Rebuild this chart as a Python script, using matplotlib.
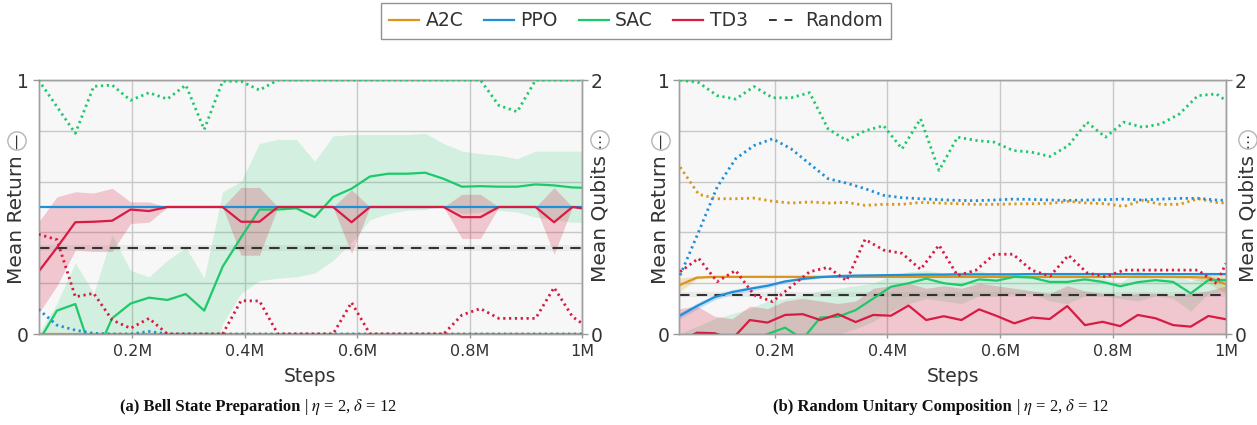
import numpy as np
import matplotlib
matplotlib.use("Agg")
import matplotlib.pyplot as plt
from matplotlib.lines import Line2D

plt.rcParams['font.family'] = ['DejaVu Sans']
plt.rcParams['mathtext.fontset'] = 'stix'

# algorithm colours
colors = {'A2C': '#d9961a', 'PPO': '#1f8fd8', 'SAC': '#1dc96a', 'TD3': '#d81b43'}

# evaluation steps (in millions)
steps_a = np.append(np.arange(1, 31) * 32768, 1_000_000) / 1e6
steps_b_ret = np.arange(1, 33) * 31250 / 1e6
steps_b_qub = steps_a

# ---- (a) Bell State Preparation ----
a_a2c_ret = [0.0] * 31
a_a2c_qub = [0.0] * 31
a_ppo_ret = [0.5] * 31
a_ppo_qub = [0.194, 0.07, 0.03, 0.005, 0.0, 0.0, 0.02, 0.0, 0.0, 0.0, 0.0, 0.0, 0.0, 0.0, 0.0, 0.0,
             0.0, 0.0, 0.0, 0.0, 0.0, 0.0, 0.0, 0.0, 0.0, 0.0, 0.0, 0.0, 0.0, 0.0, 0.0]
a_sac_ret = [-0.03, 0.092, 0.118, -0.1, 0.062, 0.12, 0.143, 0.134, 0.157, 0.092, 0.265, 0.38, 0.49,
             0.49, 0.495, 0.46, 0.54, 0.572, 0.62, 0.631, 0.631, 0.635, 0.611, 0.58, 0.582, 0.58,
             0.58, 0.589, 0.585, 0.577, 0.576]
a_sac_hi = [0.0, 0.12, 0.28, 0.16, 0.39, 0.25, 0.225, 0.29, 0.34, 0.22, 0.56, 0.6, 0.75, 0.766,
            0.766, 0.68, 0.78, 0.785, 0.785, 0.785, 0.785, 0.79, 0.75, 0.72, 0.71, 0.703, 0.69,
            0.72, 0.72, 0.72, 0.72]
a_sac_lo = [-0.2, -0.2, -0.2, -0.2, -0.2, -0.2, -0.2, -0.2, -0.2, -0.2, 0.04, 0.16, 0.21, 0.22,
            0.225, 0.24, 0.29, 0.36, 0.45, 0.474, 0.487, 0.49, 0.506, 0.474, 0.48, 0.487, 0.48,
            0.46, 0.45, 0.44, 0.44]
a_sac_qub = [2.0, 1.79, 1.58, 1.95, 1.96, 1.84, 1.9, 1.85, 1.96, 1.61, 1.99, 1.99, 1.92, 2.0, 2.0,
             2.0, 2.0, 2.0, 2.0, 2.0, 2.0, 2.0, 2.0, 2.0, 2.0, 1.8, 1.75, 2.0, 2.0, 2.0, 2.0]
a_td3_ret = [0.245, 0.34, 0.44, 0.442, 0.446, 0.49, 0.484, 0.5, 0.5, 0.5, 0.5, 0.442, 0.442, 0.5,
             0.5, 0.5, 0.5, 0.44, 0.5, 0.5, 0.5, 0.5, 0.5, 0.46, 0.46, 0.5, 0.5, 0.5, 0.44, 0.5, 0.495]
a_td3_hi = [0.44, 0.54, 0.56, 0.555, 0.574, 0.52, 0.52, 0.5, 0.5, 0.5, 0.5, 0.577, 0.577, 0.5, 0.5,
            0.5, 0.5, 0.568, 0.5, 0.5, 0.5, 0.5, 0.5, 0.55, 0.55, 0.5, 0.5, 0.5, 0.576, 0.5, 0.5]
a_td3_lo = [0.08, 0.19, 0.33, 0.325, 0.325, 0.435, 0.44, 0.5, 0.5, 0.5, 0.5, 0.31, 0.31, 0.5, 0.5,
            0.5, 0.5, 0.317, 0.5, 0.5, 0.5, 0.5, 0.5, 0.376, 0.376, 0.5, 0.5, 0.5, 0.314, 0.5, 0.49]
a_td3_qub = [0.785, 0.743, 0.293, 0.32, 0.11, 0.045, 0.123, 0.0, 0.0, 0.0, 0.0, 0.262, 0.26, 0.0,
             0.0, 0.0, 0.0, 0.249, 0.0, 0.0, 0.0, 0.0, 0.0, 0.15, 0.2, 0.123, 0.123, 0.123, 0.366,
             0.136, 0.084]
a_random = 0.34
a_random_band = (0.325, 0.35)

# ---- (b) Random Unitary Composition ----
b_a2c_ret = [0.192, 0.222, 0.225, 0.225, 0.225, 0.225, 0.225, 0.225, 0.225, 0.225, 0.225, 0.225,
             0.225, 0.225, 0.225, 0.225, 0.225, 0.225, 0.225, 0.225, 0.225, 0.225, 0.225, 0.225,
             0.225, 0.225, 0.225, 0.225, 0.225, 0.224, 0.222, 0.196]
b_a2c_hi = [0.22, 0.228, 0.228, 0.228, 0.228, 0.228, 0.228, 0.228, 0.228, 0.228, 0.228, 0.228,
            0.228, 0.228, 0.228, 0.228, 0.228, 0.228, 0.228, 0.228, 0.228, 0.228, 0.228, 0.228,
            0.228, 0.228, 0.228, 0.228, 0.228, 0.232, 0.24, 0.235]
b_a2c_lo = [0.165, 0.217, 0.222, 0.222, 0.222, 0.222, 0.222, 0.222, 0.222, 0.222, 0.222, 0.222,
            0.222, 0.222, 0.222, 0.222, 0.222, 0.222, 0.222, 0.222, 0.222, 0.222, 0.222, 0.222,
            0.222, 0.222, 0.222, 0.222, 0.222, 0.216, 0.2, 0.16]
b_a2c_qub = [1.314, 1.1, 1.065, 1.065, 1.07, 1.045, 1.031, 1.04, 1.031, 1.036, 1.013, 1.021, 1.021,
             1.036, 1.031, 1.026, 1.021, 1.021, 1.024, 1.026, 1.028, 1.045, 1.031, 1.026, 1.005,
             1.052, 1.021, 1.021, 1.065, 1.036, 1.031]
b_ppo_ret = [0.071, 0.11, 0.145, 0.165, 0.178, 0.19, 0.207, 0.217, 0.224, 0.228, 0.23, 0.231, 0.232,
             0.233, 0.234, 0.234, 0.235, 0.235, 0.235, 0.235, 0.236, 0.236, 0.236, 0.236, 0.236,
             0.236, 0.236, 0.236, 0.236, 0.236, 0.236, 0.236]
b_ppo_hi = [0.083, 0.122, 0.156, 0.175, 0.187, 0.198, 0.213, 0.222, 0.228, 0.231, 0.233, 0.234,
            0.235, 0.236, 0.237, 0.237, 0.238, 0.238, 0.238, 0.238, 0.239, 0.239, 0.239, 0.239,
            0.239, 0.239, 0.239, 0.239, 0.239, 0.239, 0.239, 0.239]
b_ppo_lo = [0.059, 0.098, 0.134, 0.155, 0.169, 0.182, 0.201, 0.212, 0.22, 0.225, 0.227, 0.228,
            0.229, 0.23, 0.231, 0.231, 0.232, 0.232, 0.232, 0.232, 0.233, 0.233, 0.233, 0.233,
            0.233, 0.233, 0.233, 0.233, 0.233, 0.233, 0.233, 0.233]
b_ppo_qub = [0.463, 0.804, 1.157, 1.38, 1.484, 1.537, 1.458, 1.34, 1.223, 1.188, 1.144, 1.092, 1.073,
             1.065, 1.058, 1.052, 1.05, 1.055, 1.062, 1.06, 1.055, 1.052, 1.055, 1.058, 1.062, 1.055,
             1.062, 1.068, 1.068, 1.055, 1.052]
b_sac_ret = [-0.15, -0.12, -0.08, -0.05, -0.03, 0.0, 0.025, -0.02, 0.065, 0.068, 0.094, 0.14, 0.186,
             0.2, 0.218, 0.2, 0.192, 0.215, 0.21, 0.225, 0.222, 0.205, 0.205, 0.215, 0.205, 0.188,
             0.204, 0.212, 0.205, 0.16, 0.212, 0.212]
b_sac_hi = [0.0, 0.03, 0.06, 0.08, 0.1, 0.13, 0.14, 0.15, 0.17, 0.18, 0.19, 0.2, 0.23, 0.245, 0.25,
            0.24, 0.245, 0.25, 0.23, 0.24, 0.22, 0.23, 0.24, 0.23, 0.22, 0.2, 0.25, 0.22, 0.23, 0.21,
            0.23, 0.22]
b_sac_lo = [-0.3, -0.25, -0.2, -0.15, -0.1, -0.08, -0.05, -0.06, -0.02, 0.0, 0.02, 0.05, 0.09, 0.12,
            0.14, 0.13, 0.12, 0.15, 0.15, 0.16, 0.16, 0.13, 0.12, 0.15, 0.15, 0.14, 0.13, 0.15, 0.14,
            0.09, 0.16, 0.17]
b_sac_qub = [2.0, 1.98, 1.877, 1.85, 1.948, 1.86, 1.86, 1.9, 1.615, 1.524, 1.6, 1.64, 1.458, 1.694,
             1.288, 1.55, 1.524, 1.51, 1.445, 1.432, 1.398, 1.484, 1.668, 1.55, 1.668, 1.628, 1.654,
             1.733, 1.877, 1.89, 1.838]
b_td3_ret = [-0.03, 0.005, 0.003, -0.02, 0.055, 0.045, 0.075, 0.078, 0.055, 0.078, 0.047, 0.075,
             0.072, 0.112, 0.055, 0.07, 0.055, 0.097, 0.071, 0.042, 0.065, 0.059, 0.11, 0.035, 0.048,
             0.031, 0.075, 0.062, 0.035, 0.029, 0.071, 0.058]
b_td3_hi = [0.1, 0.11, 0.07, 0.06, 0.11, 0.1, 0.13, 0.14, 0.13, 0.12, 0.13, 0.18, 0.19, 0.2, 0.18,
            0.19, 0.18, 0.2, 0.19, 0.18, 0.17, 0.16, 0.19, 0.17, 0.16, 0.15, 0.16, 0.16, 0.15, 0.16,
            0.17, 0.19]
b_td3_lo = [0.0] * 32
b_td3_qub = [0.49, 0.596, 0.412, 0.5, 0.307, 0.255, 0.373, 0.49, 0.525, 0.42, 0.745, 0.661, 0.635,
             0.509, 0.7, 0.46, 0.503, 0.628, 0.628, 0.503, 0.455, 0.62, 0.482, 0.45, 0.503, 0.503,
             0.503, 0.503, 0.503, 0.398, 0.555]
b_random = 0.155
b_random_band = (0.145, 0.165)

W, H = 1257, 425
fig = plt.figure(figsize=(W / 100, H / 100), dpi=100)
ax_a = fig.add_axes([38.5 / W, 91 / H, 543.5 / W, 254 / H])
ax_b = fig.add_axes([679.3 / W, 91 / H, 546.7 / W, 254 / H])

DOTS = (0, (0.8, 1.3))


def draw_panel(ax, x_ret, x_qub, runs, rnd, rnd_band):
    ax.set_facecolor('#f7f7f7')
    axq = ax.twinx()
    # std bands first
    for name, ret, lo, hi, qub in runs:
        if lo is not None:
            alpha = 0.17 if name == 'SAC' else 0.22
            ax.fill_between(x_ret, lo, hi, color=colors[name], alpha=alpha, lw=0, zorder=1)
    ax.axhspan(rnd_band[0], rnd_band[1], color='#888888', alpha=0.12, lw=0, zorder=1)
    ax.axhline(rnd, color='#333333', lw=1.5, ls=(0, (5, 3.5)), zorder=3)
    for name, ret, lo, hi, qub in runs:
        ax.plot(x_ret, ret, color=colors[name], lw=1.6, zorder=4)
        axq.plot(x_qub, qub, color=colors[name], lw=2.0, ls=DOTS, zorder=4)

    ax.set_xlim(x_ret[0], 1.0)
    ax.set_ylim(0, 1)
    axq.set_ylim(0, 2)
    ax.set_xticks([0.2, 0.4, 0.6, 0.8, 1.0])
    ax.set_xticklabels(['0.2M', '0.4M', '0.6M', '0.8M', '1M'])
    ax.set_yticks([0, 1])
    ax.set_yticklabels(['0', '1'])
    ax.set_yticks([0.2, 0.4, 0.6, 0.8], minor=True)
    axq.set_yticks([0, 2])
    axq.set_yticklabels(['0', '2'])
    ax.grid(True, which='both', color='#c8c8c8', lw=1, zorder=0)
    ax.set_axisbelow(True)
    ax.tick_params(axis='y', which='major', length=4, width=1, color='#999999',
                   labelsize=13.5, labelcolor='#333333', pad=3)
    ax.tick_params(axis='y', which='minor', length=0)
    ax.tick_params(axis='x', length=3, width=1, color='#999999', labelsize=11.5,
                   labelcolor='#333333', pad=4)
    axq.tick_params(axis='y', length=4, width=1, color='#999999', labelsize=13.5,
                    labelcolor='#333333', pad=2)
    for sp in list(ax.spines.values()) + list(axq.spines.values()):
        sp.set_color('#a0a0a0')
        sp.set_linewidth(1)
    ax.set_xlabel('Steps', fontsize=13.5, color='#333333', labelpad=6)
    return axq


runs_a = [
    ('A2C', a_a2c_ret, None, None, a_a2c_qub),
    ('PPO', a_ppo_ret, None, None, a_ppo_qub),
    ('SAC', a_sac_ret, a_sac_lo, a_sac_hi, a_sac_qub),
    ('TD3', a_td3_ret, a_td3_lo, a_td3_hi, a_td3_qub),
]
runs_b = [
    ('A2C', b_a2c_ret, b_a2c_lo, b_a2c_hi, b_a2c_qub),
    ('PPO', b_ppo_ret, b_ppo_lo, b_ppo_hi, b_ppo_qub),
    ('SAC', b_sac_ret, b_sac_lo, b_sac_hi, b_sac_qub),
    ('TD3', b_td3_ret, b_td3_lo, b_td3_hi, b_td3_qub),
]
draw_panel(ax_a, steps_a, steps_a, runs_a, a_random, a_random_band)
draw_panel(ax_b, steps_b_ret, steps_b_qub, runs_b, b_random, b_random_band)


# y-axis titles with the little circled line-style markers
def axis_title(xpx, bottom_px, circle_px, label, marker):
    fig.text(xpx / W, 1 - bottom_px / H, label, rotation=90, ha='center', va='bottom',
             fontsize=14.5, color='#333333')
    fig.text(xpx / W, 1 - circle_px / H, marker, rotation=90, ha='center', va='center',
             fontsize=11, color='#333333',
             bbox=dict(boxstyle='circle,pad=0.1', fc='white', ec='#b5b5b5', lw=1))


axis_title(17, 284, 141, 'Mean Return', '\u2014')
axis_title(600, 282, 140, 'Mean Qubits', '\u22ef')
axis_title(661, 284, 141, 'Mean Return', '\u2014')
axis_title(1248, 282, 140, 'Mean Qubits', '\u22ef')

# legend
handles = [Line2D([], [], color=colors[n], lw=1.6) for n in ['A2C', 'PPO', 'SAC', 'TD3']]
handles.append(Line2D([], [], color='#333333', lw=1.4, ls=(0, (4, 4))))
leg = fig.legend(handles, ['A2C', 'PPO', 'SAC', 'TD3', 'Random'], ncol=5, loc='upper center',
                 bbox_to_anchor=(636 / W, 1 - 3 / H), borderaxespad=0, frameon=True,
                 fancybox=False, edgecolor='#777777', fontsize=13.5, handlelength=1.6,
                 handletextpad=0.35, columnspacing=1.1, borderpad=0.45)
leg.get_frame().set_linewidth(1)
for t in leg.get_texts():
    t.set_color('#333333')

# sub-captions
fig.canvas.draw()
renderer = fig.canvas.get_renderer()


def caption(x0px, bold, rest):
    y = 1 - 407 / H
    t1 = fig.text(x0px / W, y, bold, family='Liberation Serif', weight='bold', fontsize=12,
                  va='center', color='#111111')
    bb = t1.get_window_extent(renderer)
    fig.text(bb.x1 / fig.bbox.width, y, rest, family='Liberation Serif', fontsize=12,
             va='center', color='#111111')


caption(120, '(a) Bell State Preparation', r' | $\eta$ = 2, $\delta$ = 12')
caption(773, '(b) Random Unitary Composition', r' | $\eta$ = 2, $\delta$ = 12')

fig.savefig('out.png', dpi=100)
